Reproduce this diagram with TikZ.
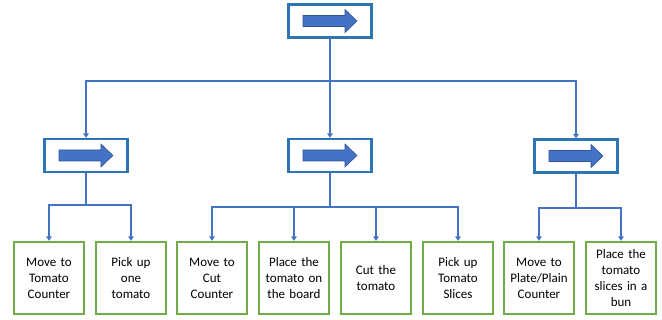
\documentclass[tikz,border=0pt]{standalone}
\usepackage{fontspec}
\setmainfont{Carlito}
\usetikzlibrary{arrows.meta}
\definecolor{bl}{HTML}{4472C4}
\definecolor{bld}{HTML}{2F5597}
\definecolor{bb}{HTML}{2E75B6}
\definecolor{gr}{HTML}{70AD47}
\tikzset{
  actbox/.style={draw=bb, line width=2.2pt, minimum width=83pt, minimum height=33pt, inner sep=0pt, fill=white},
  leafbox/.style={draw=gr, line width=2.2pt, minimum width=70pt, minimum height=72pt, inner sep=0pt, fill=white, align=center, font=\fontsize{13}{16}\selectfont, text width=70pt},
  link/.style={draw=bl, line width=1.8pt},
  conn/.style={link, -{Triangle[length=4.5pt,width=5.5pt]}},
  bigarrow/.style={fill=bl, draw=bld, line width=0.6pt}
}
\newcommand{\boxarrow}[1]{%
  \begin{scope}[shift={(#1.center)}]
    \draw[bigarrow] (-27,-5.5) -- (15,-5.5) -- (15,-11.5) -- (27,0) -- (15,11.5) -- (15,5.5) -- (-27,5.5) -- cycle;
  \end{scope}}
\begin{document}
\begin{tikzpicture}[x=1pt,y=-1pt]
\useasboundingbox (0,0) rectangle (662,320);
\node[actbox] (top) at (330,21) {};
\node[actbox] (m1) at (86,155.5) {};
\node[actbox] (m2) at (330,155.5) {};
\node[actbox] (m3) at (576,156) {};
\boxarrow{top}
\boxarrow{m1}
\boxarrow{m2}
\boxarrow{m3}
\node[leafbox] (l1) at (49,278) {Move to\\Tomato\\Counter};
\node[leafbox] (l2) at (131,278) {Pick up\\one\\tomato};
\node[leafbox] (l3) at (212,278) {Move to\\Cut\\Counter};
\node[leafbox] (l4) at (294,278) {Place the\\tomato on\\the board};
\node[leafbox] (l5) at (376,278) {Cut the\\tomato};
\node[leafbox] (l6) at (458,278) {Pick up\\Tomato\\Slices};
\node[leafbox] (l7) at (539,278) {Move to\\Plate/Plain\\Counter};
\node[leafbox] (l8) at (621,278) {Place the\\tomato\\slices in a\\bun};
\coordinate (j0) at (330,81);
\coordinate (j1) at (86,205);
\coordinate (j2) at (330,207);
\coordinate (j3) at (576,208);
\draw[link] (top.south) -- (j0);
\draw[conn] (j0) -| (m1.north);
\draw[conn] (j0) -- (m2.north);
\draw[conn] (j0) -| (m3.north);
\draw[link] (m1.south) -- (j1);
\draw[link] (m2.south) -- (j2);
\draw[link] (m3.south) -- (j3);
\draw[conn] (j1) -| (l1.north);
\draw[conn] (j1) -| (l2.north);
\draw[conn] (j2) -| (l3.north);
\draw[conn] (j2) -| (l4.north);
\draw[conn] (j2) -| (l5.north);
\draw[conn] (j2) -| (l6.north);
\draw[conn] (j3) -| (l7.north);
\draw[conn] (j3) -| (l8.north);
\end{tikzpicture}
\end{document}
